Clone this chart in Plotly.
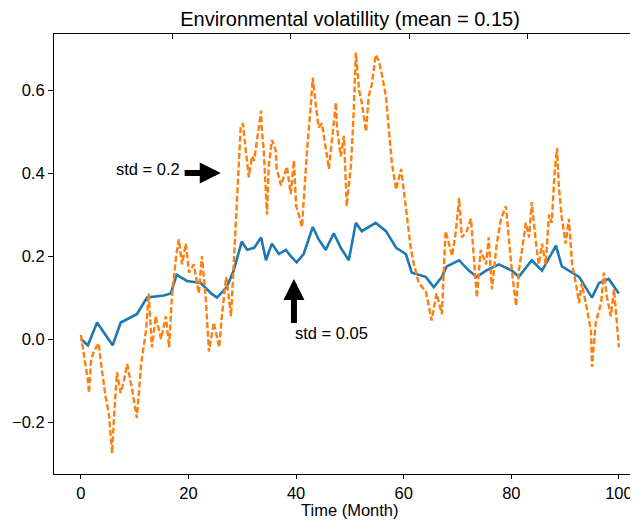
import plotly.graph_objects as go

# ---- data ----
blue_x = [0, 1.3, 3.0, 5.9, 7.4, 10.4, 12.3, 15.4, 16.7, 17.8, 19.7, 22.3, 24.2, 25.3, 27.1, 28.4,
          29.9, 30.9, 32.2, 33.5, 34.4, 35.5, 36.8, 38.1, 39.0, 40.1, 41.4, 43.1, 44.2, 45.5, 47.0,
          48.3, 49.8, 51.1, 52.2, 54.8, 56.7, 58.6, 60.4, 61.5, 64.1, 65.6, 67.1, 68.0, 70.3, 72.1,
          73.6, 75.3, 77.7, 80.1, 81.4, 83.8, 85.7, 88.3, 89.4, 91.3, 92.6, 95.0, 96.3, 98.1, 100]
blue_y = [0.0, -0.015, 0.04, -0.015, 0.04, 0.06, 0.10, 0.105, 0.11, 0.155, 0.14, 0.135, 0.11, 0.10,
          0.125, 0.165, 0.235, 0.215, 0.22, 0.245, 0.19, 0.23, 0.205, 0.215, 0.20, 0.185, 0.205,
          0.27, 0.24, 0.215, 0.255, 0.22, 0.19, 0.28, 0.26, 0.28, 0.26, 0.22, 0.205, 0.16, 0.15,
          0.125, 0.15, 0.175, 0.19, 0.165, 0.15, 0.165, 0.18, 0.165, 0.15, 0.19, 0.165, 0.225,
          0.175, 0.16, 0.15, 0.10, 0.135, 0.145, 0.11]

orange_x = [0, 1.3, 1.5, 1.9, 2.4, 3.3, 3.9, 4.6, 5.2, 5.8, 6.1, 6.7, 7.4, 8.0, 8.6, 9.5, 10.4, 11.2,
            12.1, 12.6, 13.2, 13.9, 14.9, 15.8, 16.4, 16.9, 17.7, 18.2, 18.8, 19.5, 20.1, 21.0, 21.9,
            22.5, 23.2, 23.8, 24.7, 25.7, 26.2, 27.0, 27.5, 27.9, 28.4, 28.8, 29.4, 29.7, 30.1, 30.7,
            31.2, 31.8, 32.2, 33.5, 33.6, 34.0, 34.4, 34.6, 34.9, 35.5, 36.2, 36.4, 37.2, 37.7, 38.3,
            39.0, 39.6, 40.0, 40.5, 41.1, 41.4, 42.0, 42.8, 43.1, 43.7, 44.2, 44.8, 45.5, 46.1, 46.7,
            47.4, 47.6, 48.3, 48.9, 49.4,
            50.2, 50.7, 51.1, 51.7, 52.2, 53.0, 53.5, 54.1, 54.8, 55.4, 55.9, 56.7, 57.2, 57.8, 58.6,
            59.5, 60.0, 60.6, 61.3, 61.9, 62.8, 64.1, 65.2, 66.1, 67.1, 67.5, 67.8, 68.4, 69.0, 69.7,
            70.3, 70.8, 71.7, 72.5, 73.0, 73.6, 74.3, 75.3, 75.8, 76.4, 77.3, 78.1, 79.0, 79.6, 80.1,
            80.9, 81.4, 82.0, 82.7, 83.3, 83.8, 84.6, 85.1, 85.7, 86.4, 87.0, 87.5, 88.1, 88.5, 88.8,
            89.4, 90.1, 90.7, 91.3, 92.0, 92.6, 93.1, 94.1, 94.8, 95.0, 95.7, 96.7, 97.2, 97.8, 98.5,
            99.1, 100]
orange_y = [0.01, -0.10, -0.13, -0.05, -0.03, -0.01, -0.075, -0.14, -0.18, -0.275, -0.20, -0.08,
            -0.13, -0.10, -0.06, -0.12, -0.19, -0.06, 0.02, 0.11, -0.02, 0.055, 0.0, 0.055, -0.02,
            0.10, 0.20, 0.24, 0.18, 0.23, 0.16, 0.18, 0.11, 0.20, 0.10, -0.03, 0.04, -0.02, 0.055,
            0.15, 0.10, 0.055, 0.18, 0.29, 0.44, 0.51, 0.52, 0.455, 0.39, 0.44,
            0.43, 0.55, 0.51, 0.45, 0.335, 0.30, 0.415, 0.48, 0.455, 0.41, 0.37, 0.39, 0.415, 0.35,
            0.43, 0.32, 0.30, 0.27, 0.335, 0.45, 0.575, 0.63, 0.56, 0.51, 0.52, 0.46, 0.41, 0.485,
            0.57, 0.51, 0.44, 0.49, 0.32,
            0.42, 0.545,
            0.69, 0.60, 0.57, 0.50, 0.585, 0.615, 0.685, 0.67, 0.64, 0.585, 0.51, 0.425, 0.36, 0.41,
            0.36, 0.29, 0.22, 0.18, 0.135, 0.115, 0.045, 0.11, 0.06, 0.18, 0.26, 0.23, 0.20, 0.26,
            0.34, 0.245, 0.26, 0.29, 0.20, 0.10, 0.215, 0.18, 0.245, 0.12, 0.23, 0.29, 0.32, 0.23,
            0.165, 0.08, 0.165, 0.215, 0.28, 0.245, 0.33, 0.23, 0.18, 0.23, 0.18, 0.30, 0.28, 0.41,
            0.46, 0.375, 0.29, 0.23, 0.29, 0.18, 0.135, 0.087, 0.135, 0.07, 0.02, -0.067, 0.04,
            0.087, 0.16, 0.10, 0.055, 0.12, -0.02]

x_ticks = [0, 20, 40, 60, 80, 100]
y_ticks = [-0.2, 0.0, 0.2, 0.4, 0.6]
y_tick_text = ["\u22120.2", "0.0", "0.2", "0.4", "0.6"]
title_text = "Environmental volatillity (mean = 0.15)"
x_title = "Time (Month)"

FONT = "Liberation Sans, Arial, sans-serif"
W, H = 630, 515          # page body has an 8px margin
X_LO, X_HI_FULL = -5, 105
PX_PER_UNIT = 5.38
X_HI_VIS = X_LO + (W - 46) / PX_PER_UNIT
top_ticks = [X_LO + f * (X_HI_FULL - X_LO) for f in (0.2, 0.4, 0.6, 0.8)]

fig = go.Figure()
fig.add_trace(go.Scatter(x=blue_x, y=blue_y, mode="lines",
                         line=dict(color="#1f77b4", width=2.6), showlegend=False))
fig.add_trace(go.Scatter(x=orange_x, y=orange_y, mode="lines",
                         line=dict(color="#ff7f0e", width=2.4, dash="6px,2.6px"), showlegend=False))
fig.add_trace(go.Scatter(x=[None], y=[None], xaxis="x2", showlegend=False, hoverinfo="skip"))

fig.update_layout(
    width=W, height=H,
    margin=dict(l=46, r=0, t=26, b=49, autoexpand=False),
    paper_bgcolor="white", plot_bgcolor="white",
    font=dict(family=FONT, size=16.5, color="black"),
    title=dict(text=title_text, x=342 / W, xanchor="center", xref="container",
               y=1 - 11 / H, yanchor="middle", yref="container",
               font=dict(size=20, family=FONT, color="black")),
    xaxis=dict(range=[X_LO, X_HI_VIS], tickvals=x_ticks, ticks="outside", ticklen=4,
               tickcolor="black", showline=True, linecolor="black", linewidth=1.2,
               showgrid=False, zeroline=False, tickfont=dict(size=16.5), automargin=False),
    xaxis2=dict(range=[X_LO, X_HI_VIS], overlaying="x", side="top", tickvals=top_ticks,
                ticks="inside", ticklen=5, tickcolor="black", showticklabels=False,
                showline=True, linecolor="black", linewidth=1.2, showgrid=False, zeroline=False),
    yaxis=dict(range=[-0.325, 0.735], tickvals=y_ticks, ticktext=y_tick_text, ticks="outside",
               ticklen=5, tickcolor="black", showline=True, linecolor="black", linewidth=1.2,
               showgrid=False, zeroline=False, tickfont=dict(size=16.5), automargin=False),
)

fig.add_annotation(x=50, y=0, xref="x", yref="paper", yshift=-36, text=x_title,
                   showarrow=False, xanchor="center", yanchor="middle", font=dict(size=16.5))

# annotations with thick black arrows
fig.add_annotation(x=26, y=0.40, ax=19, ay=0.40, xref="x", yref="y", axref="x", ayref="y",
                   text="", showarrow=True, arrowhead=2, arrowsize=0.7, arrowwidth=6,
                   arrowcolor="black")
fig.add_annotation(x=18.8, y=0.41, xref="x", yref="y", text="std = 0.2", showarrow=False,
                   xanchor="right", yanchor="middle", font=dict(size=16.5))
fig.add_annotation(x=39.6, y=0.145, ax=39.6, ay=0.035, xref="x", yref="y", axref="x", ayref="y",
                   text="", showarrow=True, arrowhead=2, arrowsize=0.7, arrowwidth=6,
                   arrowcolor="black")
fig.add_annotation(x=39.4, y=0.015, xref="x", yref="y", text="std = 0.05", showarrow=False,
                   xanchor="left", yanchor="middle", font=dict(size=16.5))

fig.write_html("out.html")
